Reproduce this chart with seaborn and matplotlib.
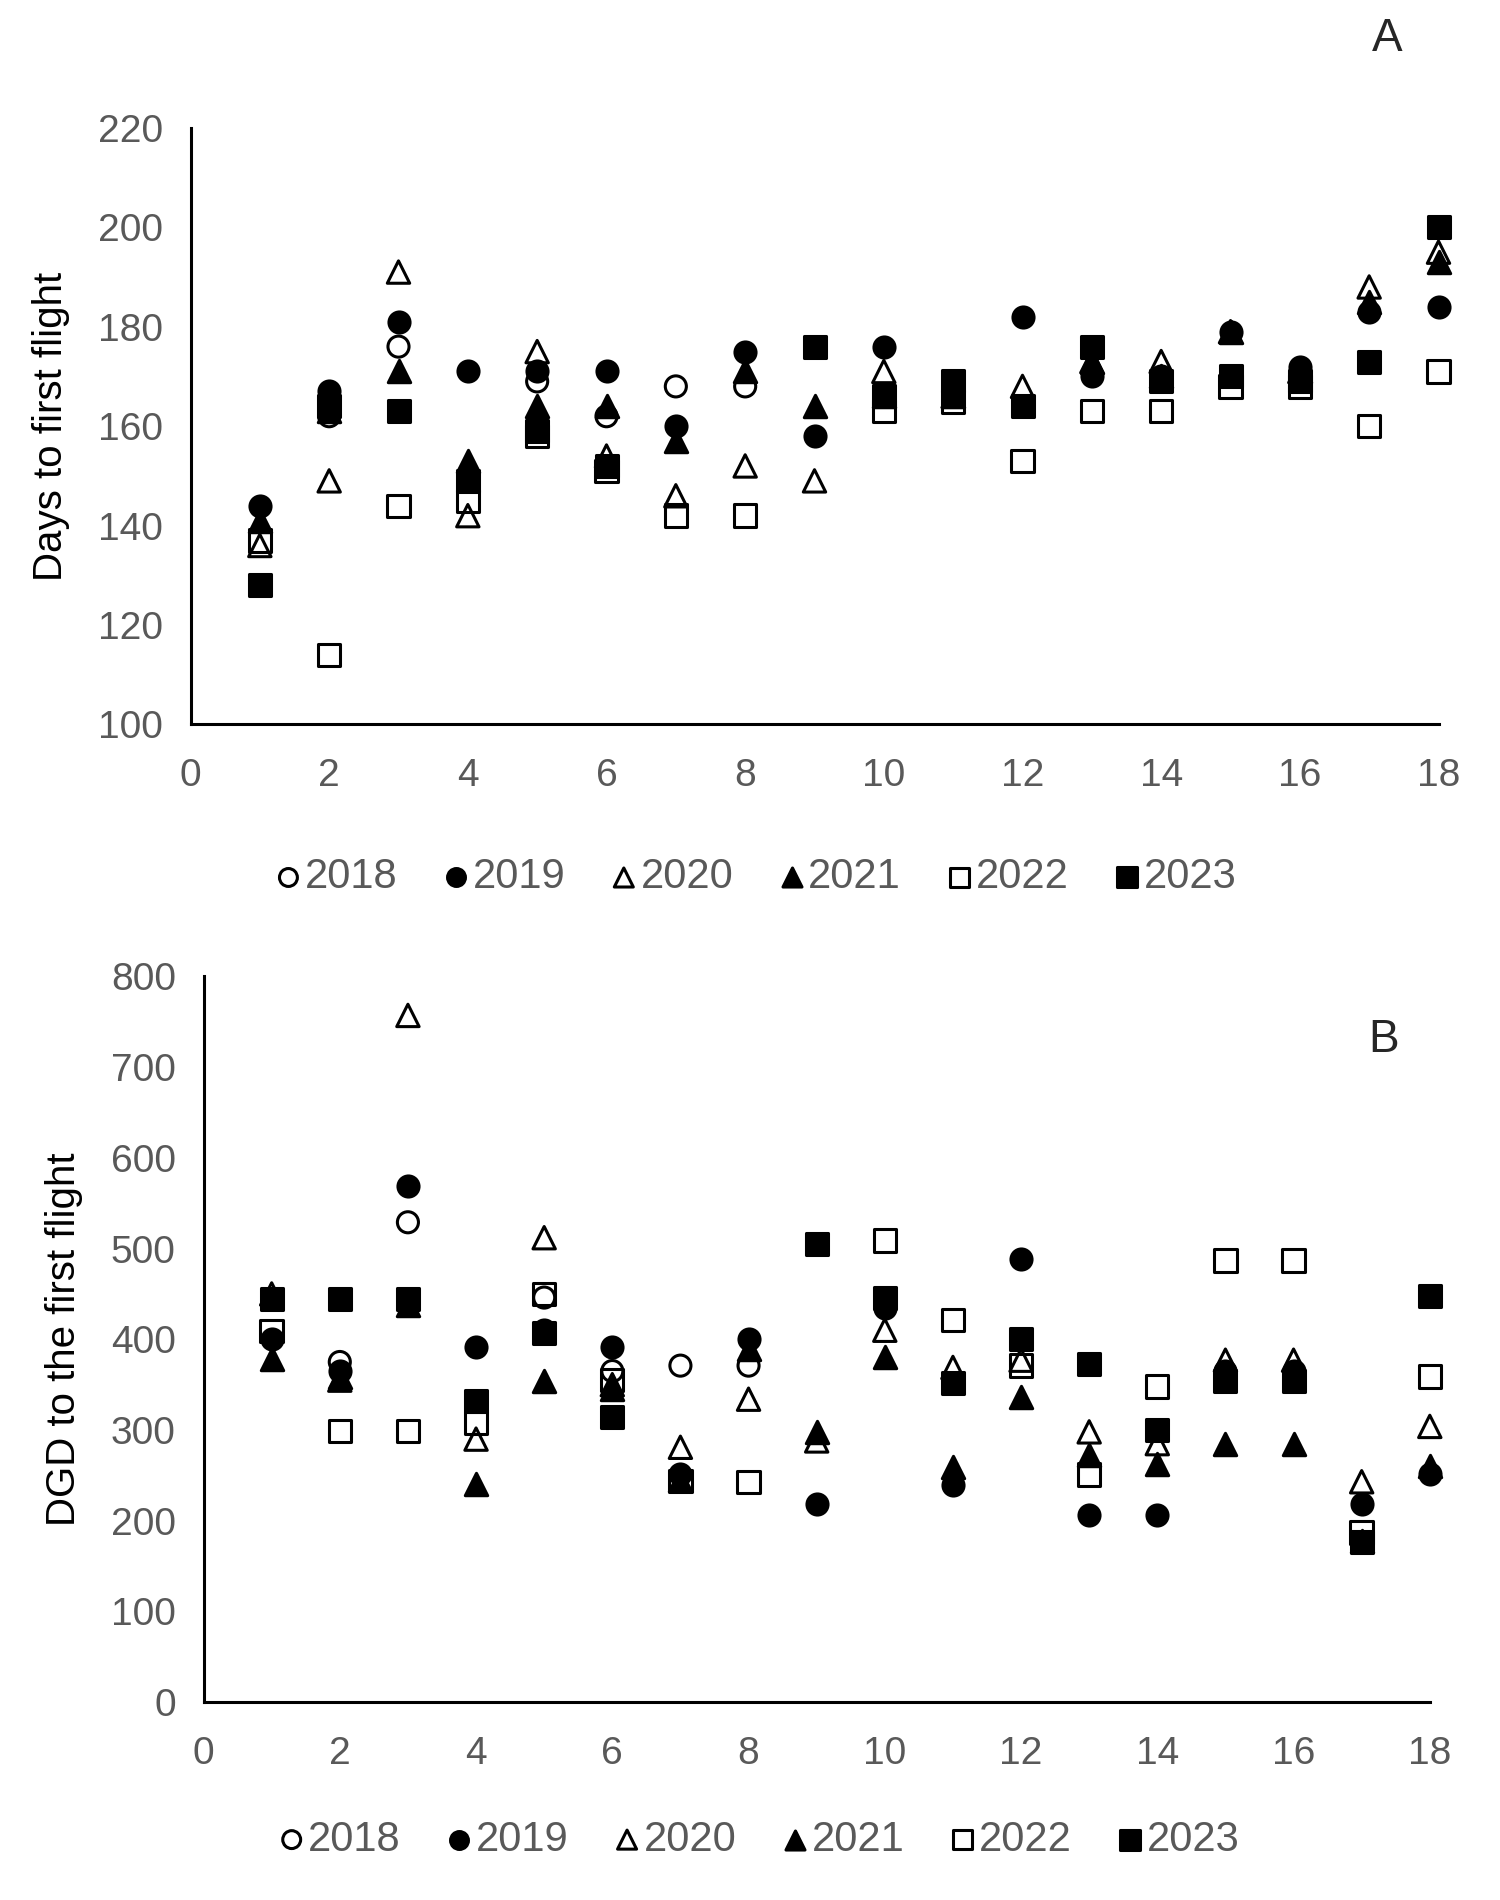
import numpy as np
import pandas as pd
import matplotlib
matplotlib.use("Agg")
import matplotlib.pyplot as plt
import seaborn as sns

nan = np.nan
sites = list(range(1, 19))
years = ["2018", "2019", "2020", "2021", "2022", "2023"]

# Panel A: days to first flight
days_2018 = [nan, 162, 176, nan, 169, 162, 168, 168, nan, nan, nan, nan, nan, nan, nan, nan, nan, nan]
days_2019 = [144, 167, 181, 171, 171, 171, 160, 175, 158, 176, 166, 182, 170, 170, 179, 172, 183, 184]
days_2020 = [136, 149, 191, 142, 175, 154, 146, 152, 149, 171, 166, 168, 173, 173, 179, 171, 188, 195]
days_2021 = [141, 163, 171, 153, 164, 164, 157, 171, 164, 166, 166, nan, 173, 170, 179, 171, 185, 193]
days_2022 = [137, 114, 144, 145, 158, 151, 142, 142, nan, 163, 165, 153, 163, 163, 168, 168, 160, 171]
days_2023 = [128, 164, 163, 149, 159, 152, nan, nan, 176, 166, 169, 164, 176, 169, 170, 169, 173, 200]

# Panel B: degree-days to the first flight
dgd_2018 = [nan, 375, 529, nan, 446, 365, 371, 371, nan, nan, nan, nan, nan, nan, nan, nan, nan, nan]
dgd_2019 = [400, 365, 569, 392, 410, 391, 252, 400, 219, 434, 239, 489, 206, 206, 365, 365, 219, 251]
dgd_2020 = [450, 355, 757, 290, 512, 350, 281, 334, 288, 410, 369, 377, 298, 285, 377, 377, 243, 304]
dgd_2021 = [378, 358, 438, 241, 354, 345, 245, 389, 298, 381, 259, 336, 273, 263, 285, 285, 178, 260]
dgd_2022 = [409, 299, 299, 308, 450, 355, 244, 243, nan, 509, 421, 371, 251, 348, 487, 487, 187, 359]
dgd_2023 = [444, 444, 444, 332, 407, 314, nan, nan, 505, 446, 352, 400, 373, 300, 354, 354, 177, 448]

days = dict(zip(years, [days_2018, days_2019, days_2020, days_2021, days_2022, days_2023]))
dgd = dict(zip(years, [dgd_2018, dgd_2019, dgd_2020, dgd_2021, dgd_2022, dgd_2023]))

markers = {"2018": "o", "2019": "o", "2020": "^", "2021": "^", "2022": "s", "2023": "s"}
filled = {"2018": False, "2019": True, "2020": False, "2021": True, "2022": False, "2023": True}
sizes = {"o": 230, "^": 260, "s": 260}

sns.set_style("white")
plt.rcParams["font.family"] = ["Liberation Sans", "DejaVu Sans"]

grey = "#595959"
fig = plt.figure(figsize=(15, 19), dpi=100)
axA = fig.add_axes([0.127, 0.6187, 0.832, 0.314])
axB = fig.add_axes([0.1357, 0.1041, 0.8175, 0.382])


def draw(ax, data, ylim, ystep, ylabel):
    for yr in years:
        df = pd.DataFrame({"site": sites, "val": data[yr]}).dropna()
        m = markers[yr]
        sns.scatterplot(data=df, x="site", y="val", ax=ax, marker=m, s=sizes[m],
                        color="black", facecolor="black" if filled[yr] else "none",
                        edgecolor="black", linewidth=2.2, label=yr, clip_on=False, zorder=3)
    ax.set_xlim(0, 18)
    ax.set_ylim(*ylim)
    ax.set_xticks(range(0, 19, 2))
    ax.set_yticks(range(ylim[0], ylim[1] + 1, ystep))
    ax.tick_params(axis="both", length=0, labelsize=28, labelcolor=grey)
    ax.tick_params(axis="y", pad=20)
    ax.tick_params(axis="x", pad=24)
    ax.set_xlabel("")
    ax.set_ylabel(ylabel, fontsize=29, color="black", labelpad=20)
    for side in ["top", "right"]:
        ax.spines[side].set_visible(False)
    for side in ["left", "bottom"]:
        ax.spines[side].set_color("black")
        ax.spines[side].set_linewidth(2.2)
    ax.legend(loc="upper center", bbox_to_anchor=(0.45, -0.16), ncol=6, frameon=False,
              fontsize=30, labelcolor=grey, handletextpad=-0.1, columnspacing=0.9,
              handlelength=1.0, markerscale=0.85)


draw(axA, days, (100, 220), 20, "Days to first flight")
draw(axB, dgd, (0, 800), 100, "DGD to the first flight")
axB.legend_.set_bbox_to_anchor((0.45, -0.11))

fig.text(1387 / 1500, 1 - 39 / 1900, "A", fontsize=33, ha="center", va="center")
fig.text(1384 / 1500, 1 - 1040 / 1900, "B", fontsize=33, ha="center", va="center")

fig.savefig("out.png", dpi=100, facecolor="white")
